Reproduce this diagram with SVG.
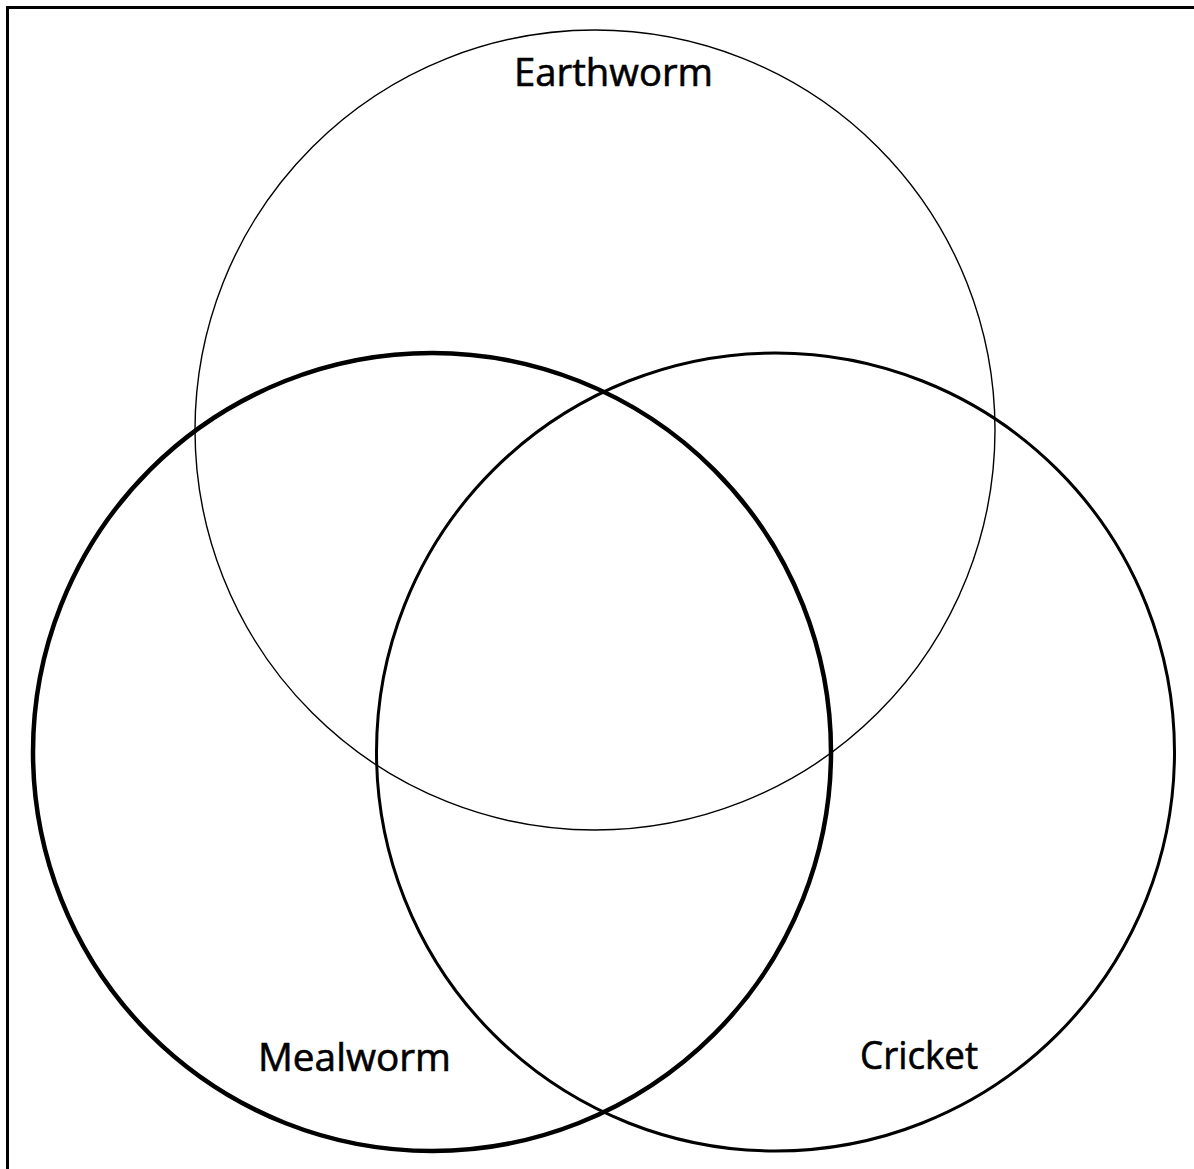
<svg xmlns="http://www.w3.org/2000/svg" width="1194" height="1169" viewBox="0 0 1194 1169">
<style>
.c{fill:none;stroke:#000}
.t{font-family:"Open Sans","Noto Sans",sans-serif;font-size:38px;fill:#000;stroke:#000;stroke-width:0.6}
</style>
<rect width="1194" height="1169" fill="#fff"/>
<g id="frame"><path d="M7.5 1169V7.5H1194" fill="none" stroke="#000" stroke-width="3"/></g>
<g id="earthworm"><circle class="c" cx="595" cy="430" r="400" stroke-width="1.4"/><text class="t" x="514" y="86" textLength="199" lengthAdjust="spacingAndGlyphs">Earthworm</text></g>
<g id="mealworm"><circle class="c" cx="432" cy="752" r="399" stroke-width="4.5"/><text class="t" x="258" y="1071" textLength="193" lengthAdjust="spacingAndGlyphs">Mealworm</text></g>
<g id="cricket"><circle class="c" cx="775.5" cy="752" r="399" stroke-width="3"/><text class="t" x="860" y="1069" textLength="118" lengthAdjust="spacingAndGlyphs">Cricket</text></g>
<g id="connectors"/>
</svg>
